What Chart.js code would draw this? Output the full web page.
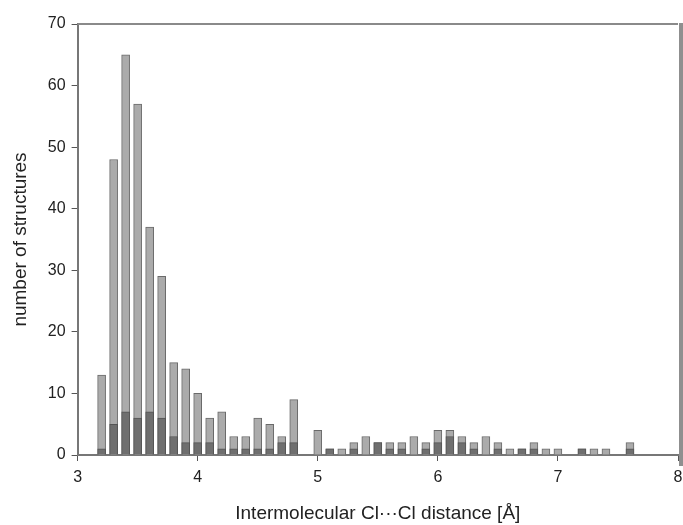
<!DOCTYPE html>
<html lang="en">
<head>
<meta charset="UTF-8" />
<title>Cl...Cl distances</title>
<style>
  html, body { margin: 0; padding: 0; background: #fff; }
  #wrap { width: 683px; height: 525px; position: relative; }
</style>
</head>
<body>
<div id="wrap"><canvas id="histChart"></canvas></div>

<script src="https://cdn.jsdelivr.net/npm/chart.js"></script>
<script>
  // distance bins [Å]
  const distances = [3.2, 3.3, 3.4, 3.5, 3.6, 3.7, 3.8, 3.9, 4.0, 4.1,
                     4.2, 4.3, 4.4, 4.5, 4.6, 4.7, 4.8, 4.9, 5.0, 5.1,
                     5.2, 5.3, 5.4, 5.5, 5.6, 5.7, 5.8, 5.9, 6.0, 6.1,
                     6.2, 6.3, 6.4, 6.5, 6.6, 6.7, 6.8, 6.9, 7.0, 7.1,
                     7.2, 7.3, 7.4, 7.5, 7.6];
  // all structures (light bars)
  const totalCounts = [13, 48, 65, 57, 37, 29, 15, 14, 10, 6,
                       7, 3, 3, 6, 5, 3, 9, 0, 4, 1,
                       1, 2, 3, 2, 2, 2, 3, 2, 4, 4,
                       3, 2, 3, 2, 1, 1, 2, 1, 1, 0,
                       1, 1, 1, 0, 2];
  // subset (dark bars)
  const subsetCounts = [1, 5, 7, 6, 7, 6, 3, 2, 2, 2,
                        1, 1, 1, 1, 1, 2, 2, 0, 0, 1,
                        0, 1, 0, 2, 1, 1, 0, 1, 2, 3,
                        2, 1, 0, 1, 0, 1, 1, 0, 0, 0,
                        1, 0, 0, 0, 1];
  const xTicks = [3, 4, 5, 6, 7, 8];

  function toPoints(values) {
    return distances.map((d, i) => ({ x: d, y: values[i] > 0 ? values[i] : null }));
  }

  // frame: top line and the heavy right edge
  const framePlugin = {
    id: 'frame',
    afterDraw(chart) {
      const a = chart.chartArea;
      const ctx = chart.ctx;
      ctx.save();
      ctx.strokeStyle = '#8a8a8a';
      ctx.lineWidth = 2;
      ctx.beginPath();
      ctx.moveTo(a.left, a.top);
      ctx.lineTo(a.right, a.top);
      ctx.stroke();
      ctx.fillStyle = '#8f8f8f';
      ctx.fillRect(a.right + 1, a.top - 1, 4, a.bottom - a.top + 12);
      ctx.restore();
    }
  };

  const ctx = document.getElementById('histChart').getContext('2d');
  new Chart(ctx, {
    type: 'bar',
    data: {
      datasets: [
        {
          label: 'subset',
          data: toPoints(subsetCounts),
          backgroundColor: '#6f6f6f',
          borderColor: '#555555',
          borderWidth: 1,
          borderSkipped: 'bottom'
        },
        {
          label: 'all',
          data: toPoints(totalCounts),
          backgroundColor: '#ababab',
          borderColor: '#6a6a6a',
          borderWidth: 1,
          borderSkipped: 'bottom'
        }
      ]
    },
    options: {
      responsive: true,
      maintainAspectRatio: false,
      animation: false,
      layout: { padding: { left: 9, right: 5, top: 24, bottom: 0 } },
      datasets: {
        bar: { grouped: false, barThickness: 8 }
      },
      plugins: {
        legend: { display: false },
        tooltip: { enabled: false }
      },
      scales: {
        x: {
          type: 'linear',
          min: 3,
          max: 8,
          offset: false,
          afterBuildTicks: axis => { axis.ticks = xTicks.map(v => ({ value: v })); },
          afterFit: axis => { axis.paddingRight = 0; },
          grid: { offset: false, drawOnChartArea: false, drawTicks: true, tickLength: 6, color: '#555', lineWidth: 1 },
          border: { color: '#777', width: 2 },
          ticks: { color: '#222', font: { family: 'Liberation Sans', size: 16 }, padding: 7, maxRotation: 0 },
          title: {
            display: true,
            text: 'Intermolecular Cl\u00b7\u00b7\u00b7Cl distance [\u00c5]',
            color: '#222',
            font: { family: 'Liberation Sans', size: 19 },
            padding: { top: 8, bottom: 0 }
          }
        },
        y: {
          min: 0,
          max: 70,
          ticks: { stepSize: 10, color: '#222', font: { family: 'Liberation Sans', size: 16 }, padding: 6 },
          grid: { drawOnChartArea: false, drawTicks: true, tickLength: 6, color: '#555', lineWidth: 1 },
          border: { color: '#777', width: 2 },
          title: {
            display: true,
            text: 'number of structures',
            color: '#222',
            font: { family: 'Liberation Sans', size: 19 },
            padding: { top: 0, bottom: 10 }
          }
        }
      }
    },
    plugins: [framePlugin]
  });
</script>
</body>
</html>
